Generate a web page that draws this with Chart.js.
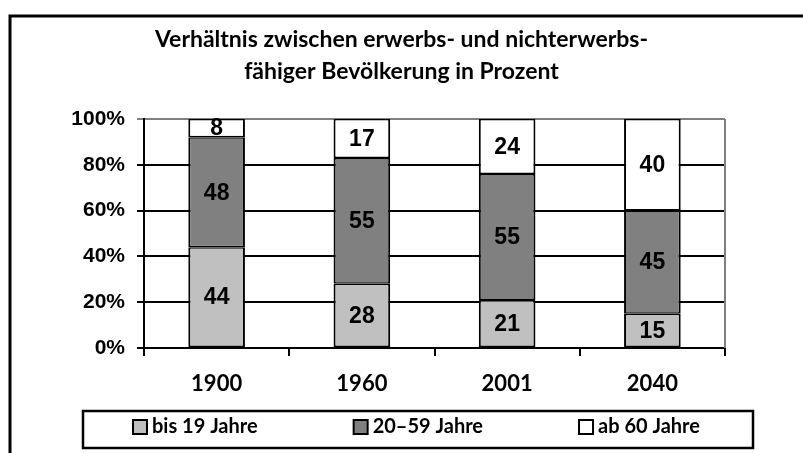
<!DOCTYPE html>
<html>
<head>
<meta charset="utf-8">
<script src="https://cdn.jsdelivr.net/npm/chart.js@4"></script>
<style>
    body { margin: 0; background: #fff; }
    #wrap { width: 803px; height: 453px; }
</style>
</head>
<body>
<div id="wrap"><canvas id="bevoelkerungStat" width="803" height="453"></canvas></div>
<script>
let jahre = ["1900", "1960", "2001", "2040"];
let bis19 = [44, 28, 21, 15];
let mitte = [48, 55, 55, 45];
let ab60 = [8, 17, 24, 40];
let yTicks = [0, 20, 40, 60, 80, 100];
let legendeTexte = ["bis 19 Jahre", "20\u201359 Jahre", "ab 60 Jahre"];

// Rahmen, rechte Plotkante und Legende
let rahmenPlugin = {
    id: "rahmen",
    afterDraw: function (chart) {
        let ctx = chart.ctx;
        let area = chart.chartArea;
        ctx.save();
        ctx.strokeStyle = "#808080";
        ctx.lineWidth = 2;
        ctx.beginPath();
        ctx.moveTo(area.right, area.top);
        ctx.lineTo(area.right, area.bottom);
        ctx.stroke();

        ctx.strokeStyle = "#000";
        ctx.lineWidth = 3;
        ctx.beginPath();
        ctx.moveTo(10, 460);
        ctx.lineTo(10, 16);
        ctx.lineTo(810, 16);
        ctx.stroke();

        // Legende
        ctx.lineWidth = 2.5;
        ctx.strokeRect(83, 411, 670, 37);
        ctx.font = "bold 20px Lato";
        ctx.textBaseline = "middle";
        ctx.textAlign = "left";
        let x = 133;
        let y = 427;
        chart.data.datasets.forEach(function (ds) {
            ctx.fillStyle = ds.backgroundColor;
            ctx.fillRect(x, y - 7, 14, 14);
            ctx.lineWidth = 2;
            ctx.strokeStyle = "#000";
            ctx.strokeRect(x, y - 7, 14, 14);
            ctx.fillStyle = "#000";
            ctx.fillText(ds.label, x + 19, y);
            x += 19 + ctx.measureText(ds.label).width + 96;
        });
        ctx.restore();
    }
};

// Zahlen in den Balken
let wertePlugin = {
    id: "werte",
    afterDatasetsDraw: function (chart) {
        let ctx = chart.ctx;
        ctx.save();
        ctx.font = "bold 23px 'Liberation Sans'";
        ctx.fillStyle = "#000";
        ctx.textAlign = "center";
        ctx.textBaseline = "middle";
        chart.data.datasets.forEach(function (ds, i) {
            let meta = chart.getDatasetMeta(i);
            meta.data.forEach(function (bar, j) {
                let p = bar.getProps(["x", "y", "base"], true);
                ctx.fillText(ds.data[j], p.x, (p.y + p.base) / 2 + 1);
            });
        });
        ctx.restore();
    }
};

let ctx = document.getElementById("bevoelkerungStat");
new Chart(ctx, {
    type: "bar",
    data: {
        labels: jahre,
        datasets: [
            { label: legendeTexte[0], data: bis19, backgroundColor: "#C0C0C0" },
            { label: legendeTexte[1], data: mitte, backgroundColor: "#808080" },
            { label: legendeTexte[2], data: ab60, backgroundColor: "#FFFFFF" }
        ]
    },
    options: {
        responsive: false,
        animation: false,
        layout: { padding: { top: 10, left: 0, right: 0, bottom: 0 } },
        datasets: {
            bar: {
                borderColor: "#000",
                borderWidth: { top: 1.5, bottom: 1.5, left: 2, right: 2 },
                borderSkipped: false,
                categoryPercentage: 1,
                barPercentage: 0.39
            }
        },
        plugins: {
            legend: { display: false },
            tooltip: { enabled: false },
            title: {
                display: true,
                text: ["Verhältnis zwischen erwerbs- und nichterwerbs-", "fähiger Bevölkerung in Prozent"],
                color: "#000",
                font: { family: "Lato", size: 23, weight: "bold", lineHeight: 1.39 },
                padding: { top: 14, bottom: 31 }
            }
        },
        scales: {
            x: {
                stacked: true,
                afterFit: function (s) { s.height = 105; },
                grid: { drawOnChartArea: false, drawTicks: true, tickLength: 8, color: "#000", lineWidth: 2 },
                border: { color: "#000", width: 2 },
                ticks: { color: "#000", padding: 15, font: { family: "Lato", size: 22, weight: "bold" } }
            },
            y: {
                stacked: true,
                min: 0,
                max: 100,
                afterFit: function (s) { s.width = 144; },
                afterBuildTicks: function (s) { s.ticks = yTicks.map(function (v) { return { value: v }; }); },
                grid: {
                    color: function (c) { return c.tick && c.tick.value === 100 ? "#808080" : "#000"; },
                    lineWidth: 2,
                    tickLength: 7
                },
                border: { color: "#000", width: 2 },
                ticks: {
                    color: "#000",
                    padding: 12,
                    font: { family: "Liberation Sans", size: 21, weight: "bold" },
                    callback: function (v) { return v + "%"; }
                }
            },
            rechts: {
                type: "linear",
                position: "right",
                afterFit: function (s) { s.width = 78; },
                grid: { display: false },
                border: { display: false },
                ticks: { display: false }
            }
        }
    },
    plugins: [wertePlugin, rahmenPlugin]
});
</script>
</body>
</html>
